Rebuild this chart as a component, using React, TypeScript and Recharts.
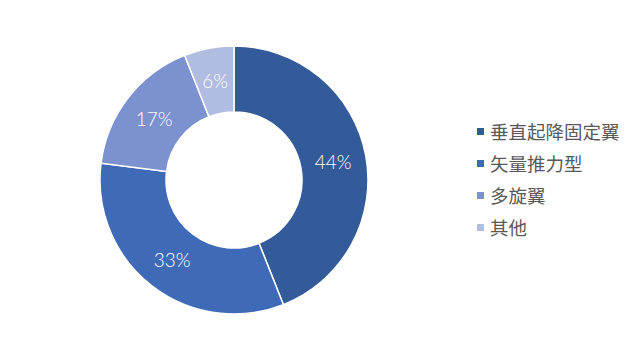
import React from 'react';
import { PieChart, Pie, Cell, Legend } from 'recharts';

// Slices, clockwise from 12 o'clock
const categories = ['垂直起降固定翼', '矢量推力型', '多旋翼', '其他'];
const shares = [44, 33, 17, 6];
const colors = ['#335A99', '#3F6AB8', '#7B91D0', '#B0BCE0'];

const data = categories.map((name, i) => ({ name, value: shares[i] }));

const RADIAN = Math.PI / 180;

function SliceLabel(props: any) {
  const { cx, cy, midAngle, innerRadius, outerRadius, value } = props;
  const r = (innerRadius + outerRadius) / 2;
  const x = cx + r * Math.cos(-midAngle * RADIAN);
  const y = cy + r * Math.sin(-midAngle * RADIAN);
  return (
    <text
      x={x}
      y={y}
      fill="#ffffff"
      textAnchor="middle"
      dominantBaseline="central"
      style={{ fontFamily: 'Lato, "Open Sans", sans-serif', fontWeight: 300, fontSize: 19 }}
    >
      {`${value}%`}
    </text>
  );
}

function LegendList() {
  return (
    <div style={{ fontFamily: '"Noto Sans CJK SC", sans-serif', fontSize: 18.5, color: '#595959' }}>
      {data.map((d, i) => (
        <div key={d.name} style={{ display: 'flex', alignItems: 'center', height: 32 }}>
          <span
            style={{ width: 7, height: 7, background: colors[i], display: 'inline-block', marginRight: 6 }}
          />
          <span>{d.name}</span>
        </div>
      ))}
    </div>
  );
}

export default function App() {
  return (
    <div style={{ position: 'fixed', left: 0, top: 0, width: 642, height: 359, background: '#fff' }}>
      <PieChart width={642} height={359} margin={{ top: 0, right: 0, bottom: 0, left: 0 }}>
        <Pie
          data={data}
          dataKey="value"
          cx={234}
          cy={180}
          innerRadius={68}
          outerRadius={134}
          startAngle={90}
          endAngle={-270}
          stroke="#ffffff"
          strokeWidth={1.5}
          label={SliceLabel}
          labelLine={false}
          isAnimationActive={false}
        >
          {data.map((d, i) => (
            <Cell key={d.name} fill={colors[i]} />
          ))}
        </Pie>
        <Legend
          content={() => <LegendList />}
          wrapperStyle={{ left: 477, top: 115, width: 165 }}
        />
      </PieChart>
    </div>
  );
}
